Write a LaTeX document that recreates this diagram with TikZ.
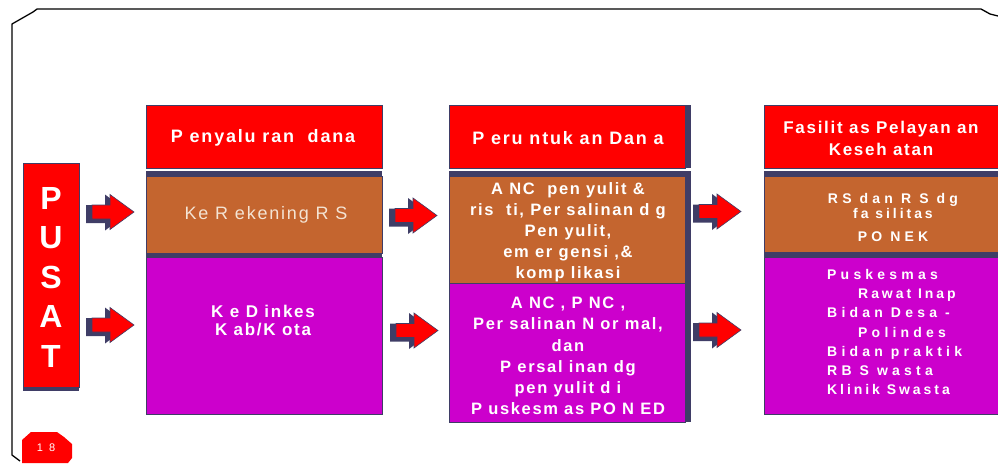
\documentclass[tikz,border=0pt]{standalone}
\usepackage{fontspec}
\setmainfont{Liberation Sans}
\newfontfamily\lsA[LetterSpace=10]{Liberation Sans}
\newfontfamily\lsB[LetterSpace=30]{Liberation Sans}
\newfontfamily\lsD[LetterSpace=21]{Liberation Sans}
\definecolor{navy}{HTML}{3F3D66}
\definecolor{brick}{HTML}{C4652F}
\definecolor{mag}{HTML}{CC00CC}
\definecolor{pale}{HTML}{F4E4D4}
\begin{document}
\begin{tikzpicture}[x=1pt,y=-1pt,
  box/.style={draw=navy,line width=0.7pt,anchor=north west,inner sep=0pt,outer sep=0pt},
  strip/.style={fill=navy,draw=none,anchor=north west,inner sep=0pt,outer sep=0pt},
  txt/.style={text=white,align=center,inner sep=0pt},
  blockarrow/.pic={
    \fill[navy] (-48,-7) -- (-29,-7) -- (-29,-17.5) -- (-5,0.5) -- (-29,18.5) -- (-29,11) -- (-48,11) -- cycle;
    \filldraw[fill=red,draw=navy,line width=0.6pt] (-42,-7) -- (-24,-7) -- (-24,-17.5) -- (0,0) -- (-24,17.5) -- (-24,7) -- (-42,7) -- cycle;
  }
]
\useasboundingbox (0,0) rectangle (998,463);
% outer frame
\draw[line width=1.3pt,line join=miter] (20,461) -- (12,455) -- (12,24) -- (33,12) -- (37,9) -- (981,9) -- (990,14) -- (998,16);
% page badge
\fill[red] (22,440) -- (31,432) -- (57,432) -- (64,437) -- (72,444) -- (72,458) -- (68,463) -- (22,463) -- cycle;
\node[text=white,inner sep=0pt,font=\fontsize{11}{12}\selectfont] (pg) at (46,448) {1\ \ 8};

% PUSAT
\node[box,fill=red,minimum width=56pt,minimum height=224pt] (pusat) at (23,163) {};
\node[strip,minimum width=56pt,minimum height=4pt] (pusatS) at (23,387) {};
\node[txt,font=\fontsize{32}{39.5}\selectfont\bfseries] (pusatT) at (51,277) {P\\U\\S\\A\\T};

% column 1
\node[box,fill=red,minimum width=236pt,minimum height=63pt] (h1) at (146,105) {};
\node[strip,minimum width=236pt,minimum height=5pt] (s1a) at (146,171) {};
\node[box,fill=brick,minimum width=236pt,minimum height=77pt] (b1) at (146,176) {};
\node[strip,minimum width=236pt,minimum height=4pt] (s1b) at (146,253) {};
\node[box,fill=mag,minimum width=236pt,minimum height=157pt] (m1) at (146,257) {};
\node[txt,font=\fontsize{18}{21}\selectfont\bfseries\lsA] (th1) at (263,138) {P enyalu ran\ \ dana};
\node[txt,text=pale,font=\fontsize{18}{21}\selectfont\lsA] (tb1) at (266,215) {Ke R ekening R S};
\node[txt,font=\fontsize{17}{18}\selectfont\bfseries\lsA] (tm1) at (263,321) {K e D inkes\\K ab/K ota};

% column 2
\node[box,fill=red,minimum width=236pt,minimum height=63pt] (h2) at (449,105) {};
\node[strip,minimum width=6pt,minimum height=63pt] (s2r) at (685,105) {};
\node[strip,minimum width=242pt,minimum height=5pt] (s2a) at (449,171) {};
\node[box,fill=brick,minimum width=236pt,minimum height=107pt] (b2) at (449,176) {};
\node[box,fill=mag,minimum width=236pt,minimum height=139pt] (m2) at (449,283) {};
\node[strip,minimum width=6pt,minimum height=251pt] (s2b) at (685,171) {};
\node[txt,font=\fontsize{18}{21}\selectfont\bfseries\lsA] (th2) at (568,138) {P eru ntuk an Dan a};
\node[txt,font=\fontsize{16.5}{21}\selectfont\bfseries\lsA] (tb2) at (568,232) {A NC\ \ pen yulit \&\\ris\ \ ti, Per salinan d g\\Pen yulit,\\em er gensi ,\&\\komp likasi};
\node[txt,font=\fontsize{16.5}{21.2}\selectfont\bfseries\lsA] (tm2) at (568,356) {A NC , P NC ,\\Per salinan N or mal,\\dan\\P ersal inan dg\\pen yulit d i\\P uskesm as PO N ED};

% column 3
\node[box,fill=red,minimum width=240pt,minimum height=63pt] (h3) at (764,105) {};
\node[strip,minimum width=240pt,minimum height=5pt] (s3a) at (764,171) {};
\node[box,fill=brick,minimum width=240pt,minimum height=76pt] (b3) at (764,176) {};
\node[strip,minimum width=240pt,minimum height=5pt] (s3b) at (764,252) {};
\node[box,fill=mag,minimum width=240pt,minimum height=157pt] (m3) at (764,257) {};
\node[txt,font=\fontsize{17}{22}\selectfont\bfseries\lsA] (th3) at (881,138) {Fasilit as Pelayan an\\Keseh atan};
\node[txt,font=\fontsize{14}{15}\selectfont\bfseries\lsB] (tb3) at (893,217) {RS dan R S dg\\{\lsD fa silitas}\\[8pt]PO NEK};
\node[txt,align=left,anchor=west,font=\fontsize{14}{19.3}\selectfont\bfseries\lsB] (tm3) at (827,332) {Puskesmas\\\hspace*{31pt}{\lsD Rawat Inap}\\Bidan Desa -\\\hspace*{31pt}Polindes\\Bidan praktik\\RB S wasta\\{\lsD Klinik Swasta}};

% block arrows
\pic at (134,212) {blockarrow};
\pic at (437,215.5) {blockarrow};
\pic at (741,211.5) {blockarrow};
\pic at (134,325) {blockarrow};
\pic at (438,330.5) {blockarrow};
\pic at (741,330) {blockarrow};
\end{tikzpicture}
\end{document}
